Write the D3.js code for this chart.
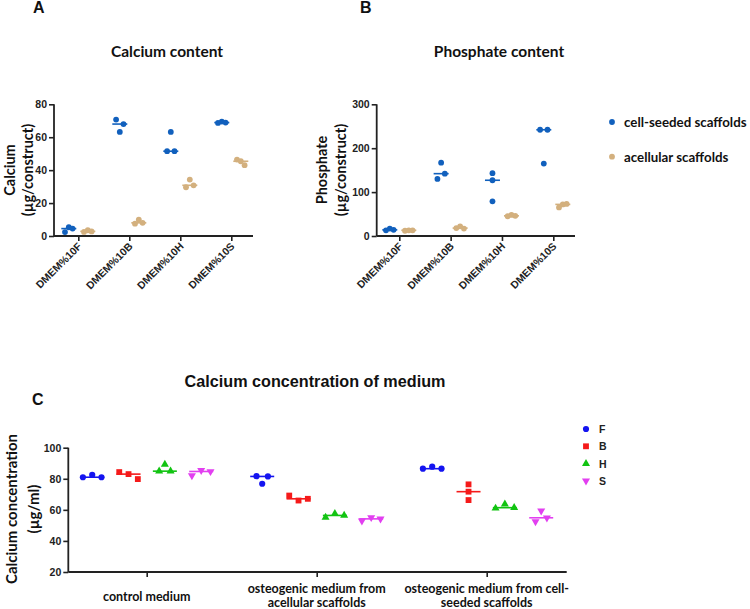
<!DOCTYPE html>
<html>
<head>
<meta charset="utf-8">
<script src="https://cdn.jsdelivr.net/npm/d3@7/dist/d3.min.js"></script>
<style>
  html, body { margin: 0; padding: 0; background: #fff; }
  svg { display: block; }
  .tick text { font-family: "Liberation Sans", Arial, sans-serif; font-weight: bold; fill: #222; }
  .lato { font-family: Lato, "Open Sans", sans-serif; font-weight: bold; fill: #111; }
  .xlab { font-family: "Liberation Sans", Arial, sans-serif; font-weight: bold; fill: #222; }
</style>
</head>
<body>
<svg id="chart" width="750" height="609"></svg>
<script>
// ---------- DATA ----------
const abCategories = ["DMEM%10F", "DMEM%10B", "DMEM%10H", "DMEM%10S"];
const abSeries = ["cell-seeded scaffolds", "acellular scaffolds"];

// Panel A: Calcium (µg/construct), 3 replicates per group
const calciumCellSeeded = [[2.4, 5.3, 4.5], [70.7, 63.2, 68.0], [51.5, 63.2, 51.5], [68.7, 69.5, 68.9]];
const calciumAcellular  = [[2.5, 3.5, 2.8], [7.5, 10.0, 8.0], [29.6, 34.3, 30.8], [46.4, 45.4, 43.0]];

// Panel B: Phosphate (µg/construct)
const phosphateCellSeeded = [[13, 17, 14], [130, 167, 142], [143, 127, 79], [242, 165, 242]];
const phosphateAcellular  = [[12, 13, 13], [18, 22, 17], [45, 48, 46], [65, 72, 73]];

const calciumTicks = [0, 20, 40, 60, 80];
const phosphateTicks = [0, 100, 200, 300];

// Panel C: Calcium concentration of medium (µg/ml)
const cCategories = ["control medium", "osteogenic medium from acellular scaffolds", "osteogenic medium from cell-seeded scaffolds"];
const cCategoryLines = [["control medium"], ["osteogenic medium from", "acellular scaffolds"], ["osteogenic medium from cell-", "seeded scaffolds"]];
const cSeries = ["F", "B", "H", "S"];
const mediumF = [[81.0, 82.5, 81.0], [81.7, 76.8, 81.5], [86.5, 87.8, 86.5]];
const mediumB = [[84.3, 83.0, 79.8], [69.2, 66.0, 67.1], [76.4, 71.7, 66.3]];
const mediumH = [[84.9, 89.2, 84.9], [55.1, 57.6, 56.4], [61.0, 63.6, 61.4]];
const mediumS = [[82.1, 85.4, 84.7], [52.9, 55.1, 54.2], [52.4, 59.4, 54.9]];
const mediumTicks = [20, 40, 60, 80, 100];

// ---------- STYLE ----------
const colBlue = "#1160bd", colTan = "#d3b07e";
const cColors = { F: "#1414f0", B: "#f51a1a", H: "#12c412", S: "#e23ff0" };
const cShapes = { F: d3.symbolCircle, B: d3.symbolSquare, H: d3.symbolTriangle, S: d3.symbolTriangle };
const cSizes = { F: 30, B: 34, H: 28, S: 28 };
const axisColor = "#222";

const svg = d3.select("#chart");

// cluster-based horizontal spreading of replicates (GraphPad-like)
function spread(values, yScale, thresh, h, k) {
  const idx = values.map((v, i) => i).sort((a, b) => yScale(values[a]) - yScale(values[b]));
  const clusters = [];
  let cur = [idx[0]];
  for (let j = 1; j < idx.length; j++) {
    if (Math.abs(yScale(values[idx[j]]) - yScale(values[idx[j - 1]])) < thresh) cur.push(idx[j]);
    else { clusters.push(cur); cur = [idx[j]]; }
  }
  clusters.push(cur);
  const off = new Array(values.length).fill(0);
  clusters.forEach(c => {
    c.sort((a, b) => a - b);
    if (c.length === 2) { off[c[0]] = -h; off[c[1]] = h; }
    else if (c.length >= 3) c.forEach((p, i) => { off[p] = (i - (c.length - 1) / 2) * k; });
  });
  return off;
}

function styleAxis(g) {
  g.selectAll(".domain").attr("stroke", axisColor).attr("stroke-width", 1.8);
  g.selectAll(".tick line").attr("stroke", axisColor).attr("stroke-width", 1.6);
}

// ---------- PANELS A & B ----------
function drawAB(cfg) {
  const y = d3.scaleLinear().domain(cfg.domain).range([236, 104.3]);
  const x = d3.scalePoint().domain(abCategories).range(cfg.xRange);
  const sub = d3.scalePoint().domain(abSeries).range([-9.5, 9.5]);

  const ya = svg.append("g").attr("transform", `translate(${cfg.axisX},0)`)
    .call(d3.axisLeft(y).tickValues(cfg.ticks).tickSize(5).tickSizeOuter(0).tickPadding(2));
  ya.select(".domain").attr("d", `M0,236V104.3`);
  ya.selectAll(".tick text").attr("font-size", 10.5);
  styleAxis(ya);

  const xa = svg.append("g").attr("transform", "translate(0,236)")
    .call(d3.axisBottom(x).tickSize(5).tickSizeOuter(0).tickFormat(""));
  xa.select(".domain").attr("d", `M${cfg.axisX},0H${cfg.axisEnd}`);
  styleAxis(xa);

  // rotated category labels
  abCategories.forEach(c => {
    svg.append("text").attr("class", "xlab")
      .attr("transform", `translate(${x(c) + 4},${247}) rotate(-45)`)
      .attr("text-anchor", "end")
      .attr("font-size", 10.5)
      .text(c);
  });

  [cfg.series[0], cfg.series[1]].forEach((data, si) => {
    const color = si === 0 ? colBlue : colTan;
    data.forEach((vals, ci) => {
      const cx = x(abCategories[ci]) + sub(abSeries[si]);
      const offs = spread(vals, y, 6.5, 3.7, 3.8);
      const med = d3.median(vals);
      svg.append("line").attr("x1", cx - 7.5).attr("x2", cx + 7.5)
        .attr("y1", y(med)).attr("y2", y(med))
        .attr("stroke", color).attr("stroke-width", 1.6);
      vals.forEach((v, i) => {
        svg.append("circle").attr("cx", cx + offs[i]).attr("cy", y(v)).attr("r", 2.9).attr("fill", color);
      });
    });
  });

  svg.append("text").attr("class", "lato").attr("x", cfg.titleX).attr("y", 57)
    .attr("text-anchor", "middle").attr("font-size", 15.5).text(cfg.title);

  cfg.yLabel.forEach((t, i) => {
    svg.append("text").attr("class", "lato")
      .attr("transform", `translate(${cfg.yLabelX[i]},170) rotate(-90)`)
      .attr("text-anchor", "middle").attr("dominant-baseline", "central")
      .attr("font-size", 14.5).text(t);
  });
}

drawAB({
  domain: [0, 80], ticks: calciumTicks, axisX: 54, axisEnd: 253, xRange: [78.3, 231.3],
  series: [calciumCellSeeded, calciumAcellular], title: "Calcium content", titleX: 167,
  yLabel: ["Calcium", "(µg/construct)"], yLabelX: [9, 27.5]
});
drawAB({
  domain: [0, 300], ticks: phosphateTicks, axisX: 376.7, axisEnd: 575, xRange: [399.3, 553.3],
  series: [phosphateCellSeeded, phosphateAcellular], title: "Phosphate content", titleX: 499,
  yLabel: ["Phosphate", "(µg/construct)"], yLabelX: [321.5, 340]
});

// legend A/B
abSeries.forEach((s, i) => {
  const ly = 122 + i * 34.7;
  svg.append("circle").attr("cx", 612).attr("cy", ly).attr("r", 2.9).attr("fill", i === 0 ? colBlue : colTan);
  svg.append("text").attr("class", "lato").attr("x", 624).attr("y", ly)
    .attr("dominant-baseline", "central").attr("font-size", 13.3).text(s);
});

// panel letters
[["A", 33, 13], ["B", 360, 13], ["C", 32, 405]].forEach(([t, lx, ly]) => {
  svg.append("text").attr("x", lx).attr("y", ly)
    .attr("font-family", "Liberation Sans, Arial, sans-serif").attr("font-weight", "bold")
    .attr("font-size", 16).attr("fill", "#111").text(t);
});

// ---------- PANEL C ----------
(function () {
  const y = d3.scaleLinear().domain([20, 100]).range([572, 447.7]);
  const x = d3.scalePoint().domain(cCategories).range([146.7, 486.7]);
  const sub = d3.scalePoint().domain(cSeries).range([-54.5, 54.5]);
  const seriesData = { F: mediumF, B: mediumB, H: mediumH, S: mediumS };

  const ya = svg.append("g").attr("transform", "translate(68.3,0)")
    .call(d3.axisLeft(y).tickValues(mediumTicks).tickSize(5).tickSizeOuter(0).tickPadding(2));
  ya.select(".domain").attr("d", "M0,572V447.7");
  ya.selectAll(".tick text").attr("font-size", 10.5);
  styleAxis(ya);

  const xa = svg.append("g").attr("transform", "translate(0,572)")
    .call(d3.axisBottom(x).tickSize(5).tickSizeOuter(0).tickFormat(""));
  xa.select(".domain").attr("d", "M68.3,0H566.7");
  styleAxis(xa);

  cCategories.forEach((c, ci) => {
    const lines = cCategoryLines[ci];
    const baseY = lines.length === 1 ? 601 : 593;
    lines.forEach((t, li) => {
      svg.append("text").attr("class", "lato").attr("x", x(c)).attr("y", baseY + li * 13.5)
        .attr("text-anchor", "middle").attr("font-size", 12.5).text(t);
    });
  });

  cSeries.forEach(s => {
    const color = cColors[s];
    seriesData[s].forEach((vals, ci) => {
      const cx = x(cCategories[ci]) + sub(s);
      const offs = spread(vals, y, 6.5, 5.7, 9.3);
      const med = d3.median(vals);
      svg.append("line").attr("x1", cx - 12).attr("x2", cx + 12)
        .attr("y1", y(med)).attr("y2", y(med))
        .attr("stroke", color).attr("stroke-width", 1.6);
      vals.forEach((v, i) => {
        svg.append("path")
          .attr("d", d3.symbol().type(cShapes[s]).size(cSizes[s])())
          .attr("transform", `translate(${cx + offs[i]},${y(v)})${s === "S" ? " rotate(180)" : ""}`)
          .attr("fill", color);
      });
    });
  });

  // legend
  cSeries.forEach((s, i) => {
    const ly = 429 + i * 17.3;
    svg.append("path")
      .attr("d", d3.symbol().type(cShapes[s]).size(cSizes[s])())
      .attr("transform", `translate(586,${ly})${s === "S" ? " rotate(180)" : ""}`)
      .attr("fill", cColors[s]);
    svg.append("text").attr("x", 599).attr("y", ly).attr("dominant-baseline", "central")
      .attr("font-family", "Liberation Sans, Arial, sans-serif").attr("font-weight", "bold")
      .attr("font-size", 10.5).attr("fill", "#222").text(s);
  });

  svg.append("text").attr("x", 315).attr("y", 387).attr("text-anchor", "middle")
    .attr("font-family", "Liberation Sans, Arial, sans-serif").attr("font-weight", "bold")
    .attr("font-size", 16.2).attr("fill", "#111").text("Calcium concentration of medium");

  [["Calcium concentration", 11], ["(µg/ml)", 32.5]].forEach(([t, lx]) => {
    svg.append("text").attr("class", "lato")
      .attr("transform", `translate(${lx},509) rotate(-90)`)
      .attr("text-anchor", "middle").attr("dominant-baseline", "central")
      .attr("font-size", 15).text(t);
  });
})();
</script>
</body>
</html>
